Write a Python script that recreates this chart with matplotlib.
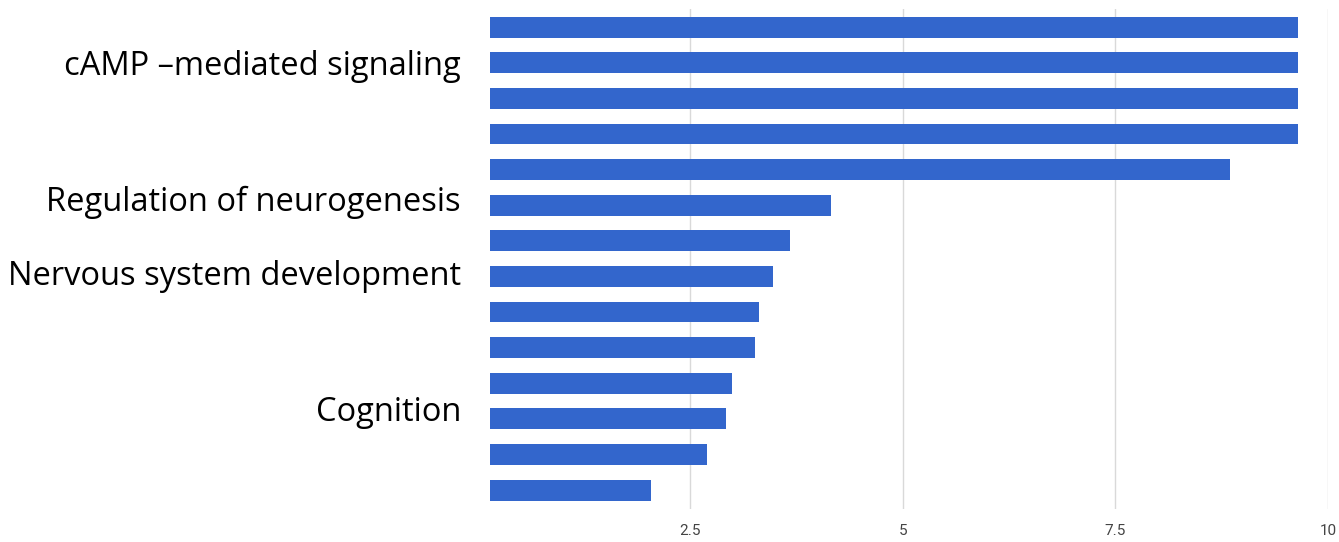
import matplotlib.pyplot as plt
import numpy as np

# bar values, top to bottom
values = [9.64, 9.64, 9.64, 9.64, 8.84, 4.16, 3.68, 3.48, 3.315, 3.265,
          2.99, 2.92, 2.70, 2.05]
# only a few rows carry a label in the original
labels = ["cAMP \u2013mediated signaling", "Regulation of neurogenesis",
          "Nervous system development", "Cognition"]
label_pos = [1, 4.8, 6.9, 10.7]
xticks = [2.5, 5, 7.5, 10]
xticklabels = ["2.5", "5", "7.5", "10"]

BLUE = "#3366cc"

fig = plt.figure(figsize=(13.39, 5.42), dpi=100)
ax = fig.add_axes([0.366, 0.0609, 0.992 - 0.366, 0.9834 - 0.0609])

y = np.arange(len(values))
ax.barh(y, values, height=0.585, color=BLUE, edgecolor="none", zorder=3)

ax.set_xlim(0.154, 10)
ax.set_ylim(13.53, -0.51)
ax.set_xticks(xticks)
ax.set_xticklabels(xticklabels, color="#444444", fontsize=11,
                   family=["Liberation Sans Narrow", "Roboto"])
ax.set_yticks(label_pos)
ax.set_yticklabels(labels, fontsize=23.5, family="Open Sans", color="black")
ax.tick_params(axis="x", length=0, pad=11)
ax.tick_params(axis="y", length=0, pad=21)
ax.grid(axis="x", color="#d9d9d9", lw=1, zorder=0)
for s in ax.spines.values():
    s.set_visible(False)

fig.savefig("out.png", dpi=100, facecolor="white")
